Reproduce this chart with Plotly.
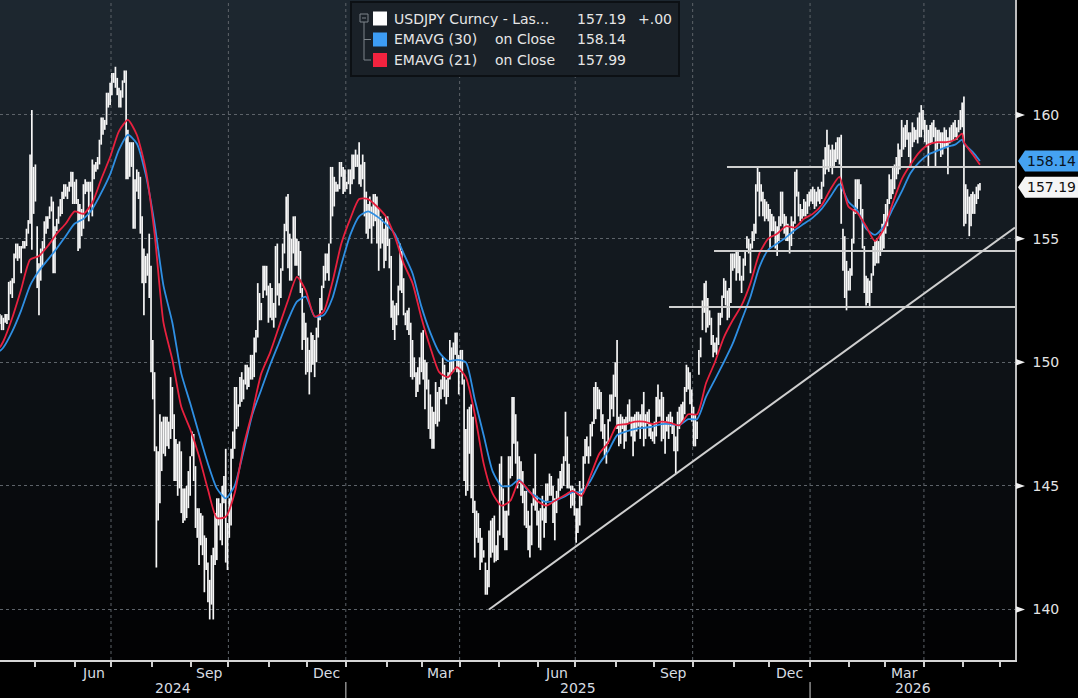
import numpy as np
import pandas as pd
import plotly.graph_objects as go

# ------------------------------------------------------------------
# Daily USDJPY bars (high, low), one list per month
# ------------------------------------------------------------------
M2024_04 = [(151.95,151.55),(151.9,151.3),(151.8,151.3),
            (151.95,151.6),(151.95,151.55),(153.25,151.7),(153.3,152.75),(153.4,152.6),
            (154.4,153.2),(154.8,154.2),(154.8,154.1),(154.7,154.2),(154.7,153.6),
            (154.9,154.6),(154.9,154.6),(155.4,154.7),(155.75,155.2),(158.4,155.6),
            (160.2,154.55),(157.9,156.0)]
M2024_05 = [(158.0,156.5),(155.5,153.0),(154.0,151.9),
            (154.6,153.3),(154.9,153.9),(155.7,154.6),(155.9,155.2),(155.9,155.4),
            (156.3,155.8),(156.7,156.1),(156.5,153.6),(155.5,153.6),(155.8,155.3),
            (156.3,155.6),(156.6,155.9),(156.9,156.0),(157.2,156.6),(157.2,156.7),
            (157.1,156.6),(157.3,156.9),(157.7,157.1),(157.7,156.4),(157.3,156.4)]
M2024_06 = [(157.4,156.4),(156.6,154.5),(156.4,154.6),(156.2,155.1),(157.2,155.4),
            (157.4,156.8),(157.3,156.9),(157.3,155.7),(157.3,156.9),(158.2,155.9),
            (158.0,157.4),(158.1,157.7),(158.3,157.8),(159.0,158.0),(159.9,158.8),
            (159.9,159.2),(159.8,159.4),(160.9,159.6),(160.9,160.3),(161.3,160.4)]
M2024_07 = [(161.7,160.8),(161.7,161.3),(161.95,161.1),(161.5,160.8),(161.1,160.3),
            (161.0,160.3),(161.4,160.7),(161.8,161.3),(161.8,157.4),(159.4,157.4),
            (158.9,157.5),(158.9,157.9),(158.9,155.4),(157.4,155.4),(157.8,156.9),
            (157.7,156.6),(157.5,155.2),(155.9,153.2),(154.6,151.9),(154.3,153.2),
            (154.4,153.5),(155.2,152.6),(153.9,149.6)]
M2024_08 = [(150.9,148.5),(149.6,146.4),
            (146.6,141.7),(146.4,143.6),(147.9,144.3),(147.6,145.6),(147.8,146.3),
            (147.8,146.2),(147.8,146.6),(147.6,146.5),(149.4,146.9),(149.0,147.3),
            (147.9,145.2),(146.9,145.2),(146.7,144.6),(146.8,144.9),(146.4,143.9),
            (144.9,143.5),(144.9,143.6),(145.0,143.7),(145.6,144.1),(146.2,144.6)]
M2024_09 = [(147.2,146.2),(147.1,145.2),(145.8,143.3),(144.1,142.9),(144.1,141.8),
            (143.9,142.6),(143.8,142.2),(143.0,140.7),(142.9,141.6),(141.9,140.3),
            (141.2,139.6),(142.2,140.2),(142.5,139.6),(143.9,141.8),(144.5,142.0),
            (144.5,143.4),(144.3,142.8),(145.0,142.6),(145.4,144.3),(146.5,141.9),
            (143.5,141.6)]
M2024_10 = [(144.5,142.9),(146.5,143.4),(147.2,146.1),(149.0,146.5),
            (149.0,147.3),(148.3,147.4),(149.4,148.2),(149.6,148.4),(149.3,148.5),
            (149.9,149.1),(149.9,148.9),(149.8,149.0),(150.3,149.3),(150.3,149.3),
            (151.0,149.4),(151.3,150.4),(153.2,151.0),(152.8,151.7),(152.4,151.7),
            (153.9,152.6),(153.9,152.9),(153.9,152.7),(153.1,151.6)]
M2024_11 = [(153.2,151.8),
            (153.0,151.7),(152.4,151.4),(154.7,151.8),(154.8,152.7),(153.2,152.3),
            (153.8,152.6),(154.8,153.7),(155.6,154.4),(156.7,155.3),(156.8,153.8),
            (155.2,153.3),(155.0,153.3),(155.9,154.4),(155.9,153.9),(155.0,153.9),
            (154.9,153.5),(154.5,152.8),(153.0,150.5),(152.0,150.9),(151.6,149.5)]
M2024_12 = [(151.0,149.6),(150.5,148.7),(151.2,149.6),(151.1,149.9),(150.9,149.4),
            (151.4,150.0),(151.9,151.0),(152.6,151.7),(153.1,152.1),(153.9,153.0),
            (154.4,153.3),(154.4,153.6),(154.8,153.3),(157.9,154.8),(157.9,155.9),
            (157.5,156.3),(157.3,156.9),(157.2,156.9),(158.1,157.0),(158.1,157.5),
            (157.9,156.8),(157.8,156.9)]
M2025_01 = [(157.3,157.0),(157.8,157.2),(157.8,156.8),
            (158.4,157.2),(158.4,157.4),(158.6,157.9),(158.4,157.9),(158.9,157.2),
            (158.0,157.1),(158.4,157.4),(158.1,155.9),(156.9,155.2),(156.4,155.0),
            (156.7,155.4),(156.3,154.8),(156.8,155.5),(156.8,155.7),(156.7,154.8),
            (156.2,153.7),(155.9,154.6),(155.8,154.8),(155.4,153.8),(155.9,154.1)]
M2025_02 = [(155.9,154.7),(155.0,153.8),(154.3,151.8),(152.5,151.3),(152.3,150.9),
            (152.4,151.5),(153.1,151.9),(154.8,152.9),(154.5,152.8),(153.4,151.9),
            (152.0,151.5),(152.1,151.3),(152.2,151.1),(151.6,149.4),(150.9,149.3),
            (150.2,149.4),(149.6,148.6),(149.8,148.8),(150.2,149.1),(151.2,149.6)]
M2025_03 = [(151.3,149.3),(150.1,148.1),(150.0,148.9),(149.3,147.3),(148.7,146.9),
            (148.2,146.5),(148.0,146.5),(149.2,147.5),(148.8,147.4),(149.0,147.6),
            (149.3,148.5),(150.2,148.9),(149.9,148.6),(149.3,148.3),(149.6,148.6),
            (150.9,149.3),(150.6,149.6),(150.8,149.6),(151.2,150.3),(151.2,149.6),
            (150.3,148.7)]
M2025_04 = [(150.5,149.6),(150.5,149.1),(149.3,145.2),(147.3,144.6),
            (148.1,144.8),(148.2,146.3),(148.3,144.5),(147.8,143.9),(144.4,142.1),
            (144.0,142.9),(143.9,142.7),(143.3,141.6),(142.9,141.9),(142.4,142.1),
            (141.9,140.6),(141.6,140.6),(143.2,140.9),(143.6,142.1),(143.7,142.3),
            (143.8,141.9),(142.6,141.95),(143.2,142.0)]
M2025_05 = [(145.9,143.0),(146.2,144.4),
            (144.9,142.9),(144.0,142.4),(144.0,142.4),(146.2,143.8),(146.2,145.3),
            (148.6,145.4),(148.6,146.7),(147.9,145.9),(146.8,144.9),(146.2,145.1),
            (146.0,144.6),(145.6,144.3),(144.8,143.4),(144.8,143.3),(144.0,142.4),
            (143.4,142.1),(144.3,142.6),(144.9,144.2),(146.3,144.0),(144.6,143.4)]
M2025_06 = [(144.0,142.5),(144.1,142.4),(144.6,143.6),(144.1,142.9),(145.1,143.5),
            (145.1,144.4),(145.5,144.6),(145.4,144.6),(145.0,143.5),(144.5,142.8),
            (144.8,143.9),(145.3,144.5),(145.6,144.8),(145.9,144.9),(146.2,145.0),
            (148.0,146.0),(147.0,144.9),(145.9,144.9),(145.0,144.1),(145.0,144.2),
            (144.9,143.8)]
M2025_07 = [(144.1,142.7),(144.1,143.1),(145.2,143.4),(144.9,144.2),
            (146.2,144.7),(146.9,145.9),(147.0,146.2),(146.6,145.9),(147.5,146.2),
            (147.6,147.0),(149.0,147.5),(149.2,147.7),(149.0,148.1),(148.9,148.1),
            (148.8,147.2),(147.9,146.9),(147.5,146.2),(146.8,145.9),(147.7,146.7),
            (148.7,147.6),(148.7,148.1),(149.5,147.8),(150.0,148.6)]
M2025_08 = [(150.9,147.3),
            (147.8,146.6),(147.9,146.7),(147.8,147.3),(147.7,146.5),(147.8,146.8),
            (148.3,147.5),(148.5,147.6),(147.8,147.0),(147.8,146.2),(147.9,146.8),
            (148.0,147.2),(148.0,147.4),(147.9,146.9),(148.3,147.4),(148.8,146.6),
            (147.9,146.9),(148.0,147.5),(148.1,147.0),(147.5,146.9),(147.2,146.8)]
M2025_09 = [(147.6,146.7),(148.6,147.0),(149.1,147.8),(148.5,147.8),(148.8,146.8),
            (148.6,146.9),(147.6,146.3),(147.8,147.2),(147.9,146.9),(148.0,147.4),
            (147.8,147.1),(147.5,146.4),(147.0,145.5),(148.0,146.4),(148.2,147.3),
            (148.3,147.5),(148.4,147.6),(149.0,147.9),(149.9,148.8),(149.8,148.9),
            (149.6,148.3),(148.9,147.6)]
M2025_10 = [(148.2,146.6),(147.9,146.6),(147.6,146.9),
            (150.5,149.5),(151.0,150.2),(152.5,151.3),(153.2,152.0),(153.3,151.2),
            (152.6,151.4),(152.1,151.5),(151.8,150.7),(151.1,150.2),(150.8,150.4),
            (151.0,150.3),(152.0,150.7),(152.0,151.5),(152.7,151.8),(153.4,152.6),
            (153.3,152.3),(152.9,151.7),(153.0,151.8),(154.4,152.4),(154.4,153.7)]
M2025_11 = [(154.4,153.8),(154.5,153.3),(154.5,153.6),(154.3,153.3),(153.5,152.8),
            (154.2,153.3),(154.5,153.9),(155.1,154.6),(155.0,154.4),(154.8,153.6),
            (155.3,154.6),(155.6,154.9),(157.2,155.2),(157.9,156.9),(157.7,155.9),
            (157.2,156.5),(156.9,155.9),(156.6,155.7),(156.5,155.8),(156.4,155.7)]
M2025_12 = [(156.2,154.6),(156.0,155.3),(155.9,155.3),(155.7,154.6),(155.5,154.3),
            (155.9,154.9),(156.9,155.5),(156.9,155.6),(156.0,155.2),(155.9,154.9),
            (155.6,154.9),(155.2,154.4),(155.9,154.7),(155.7,155.2),(157.7,155.6),
            (157.8,156.7),(156.9,155.9),(156.4,155.7),(156.2,155.8),(156.6,155.9),
            (156.5,155.9),(156.8,156.0),(156.9,156.3)]
M2026_01 = [(157.0,156.5),(157.1,156.4),
            (157.0,156.2),(156.9,156.3),(157.1,156.5),(157.0,156.4),(157.3,156.6),
            (158.2,157.1),(158.7,157.6),(159.4,157.8),(158.8,157.7),(158.6,157.9),
            (158.8,157.6),(158.6,157.9),(158.9,158.1),(159.1,158.2),(159.1,158.0),
            (159.2,155.6),(155.4,153.7),(155.1,152.6),(154.1,152.1),(153.7,152.9)]
M2026_02 = [(153.8,152.9),(155.0,153.5),(156.2,154.8),(157.4,156.0),(157.4,156.2),
            (157.4,156.6),(157.2,155.8),(156.2,154.6),(154.7,152.8),(153.5,152.3),
            (153.4,152.4),(153.3,152.25),(153.6,152.8),(154.7,153.5),(154.9,153.9),
            (155.0,154.0),(154.9,154.0),(155.2,154.3),(155.6,154.5),(156.0,154.6)]
M2026_03 = [(156.4,155.2),(156.6,155.5),(157.6,156.4),(157.4,156.6),(157.9,156.8),
            (158.0,157.0),(158.3,157.4),(158.85,157.6),(158.6,157.8),(159.8,158.3),
            (159.5,158.6),(159.6,158.7),(159.8,159.0),(159.3,158.3),(159.3,157.9),
            (159.7,158.7),(159.5,158.9),(159.4,159.0),(159.9,158.85),(160.1,159.1),
            (160.4,159.1),(160.2,159.4)]
M2026_04 = [(159.8,158.9),(159.6,158.7),(159.4,157.9),
            (159.6,158.8),(159.7,158.85),(159.8,159.1),(159.5,157.9),(159.4,158.6),
            (159.4,158.85),(159.3,158.3),(159.3,158.4),(159.5,158.7),(159.4,158.65),
            (159.1,157.6),(159.5,158.85),(159.6,158.9),(159.7,159.0),(159.8,159.1),
            (159.5,159.0),(159.8,159.3),(160.2,159.4),(160.5,159.5)]
M2026_05 = [(160.75,155.5),
            (157.2,155.6),(157.0,156.0),(156.7,155.1),(156.8,155.5),(156.9,156.0),
            (156.8,156.0),(157.1,156.4),(157.2,156.6),(157.25,156.95)]

MONTHS = [("2024-04", M2024_04), ("2024-05", M2024_05), ("2024-06", M2024_06),
          ("2024-07", M2024_07), ("2024-08", M2024_08), ("2024-09", M2024_09),
          ("2024-10", M2024_10), ("2024-11", M2024_11), ("2024-12", M2024_12),
          ("2025-01", M2025_01), ("2025-02", M2025_02), ("2025-03", M2025_03),
          ("2025-04", M2025_04), ("2025-05", M2025_05), ("2025-06", M2025_06),
          ("2025-07", M2025_07), ("2025-08", M2025_08), ("2025-09", M2025_09),
          ("2025-10", M2025_10), ("2025-11", M2025_11), ("2025-12", M2025_12),
          ("2026-01", M2026_01), ("2026-02", M2026_02), ("2026-03", M2026_03),
          ("2026-04", M2026_04), ("2026-05", M2026_05)]
DATA_START = pd.Timestamp("2024-04-03")
DATA_END = pd.Timestamp("2026-05-14")

# ------------------------------------------------------------------
# EMA lines read weekly (Fridays) from the chart
# ------------------------------------------------------------------
EMA21_2024 = [150.6, 150.85, 151.8, 152.95, 154.15, 154.3, 154.7, 155.2, 155.6, 156.1,
              156.0, 156.45, 157.4, 158.3, 159.35, 159.8, 159.2, 157.8, 155.2, 151.6,
              150.1, 148.2, 147.3, 146.2, 144.85, 143.7, 143.75, 144.7, 146.6, 148.0,
              149.55, 150.4, 151.45, 152.5, 153.45, 152.9, 151.85, 152.05, 153.25, 154.8]
EMA21_2025 = [155.8, 156.6, 156.6, 156.3, 155.9, 155.1, 154.0, 153.2, 151.8, 150.6,
              149.6, 149.4, 149.8, 149.4, 147.9, 145.9, 144.7, 144.2, 144.4, 145.2,
              144.85, 144.4, 144.2, 144.4, 144.6, 144.8, 144.6, 145.4, 146.3, 146.75,
              147.45, 147.5, 147.6, 147.6, 147.5, 147.6, 147.55, 147.45, 147.9, 147.9,
              149.15, 150.0, 151.0, 151.7, 152.3, 153.2, 154.4, 155.0, 155.2, 155.5,
              155.45, 155.8]
EMA21_2026 = [156.0, 156.35, 157.0, 157.5, 156.3, 156.05, 155.5, 154.9, 155.4, 156.45,
              157.4, 158.0, 158.5, 158.8, 158.9, 158.9, 159.0, 159.25, 158.9, 158.4, 157.99]
EMA30_2024 = [150.45, 150.6, 151.25, 152.1, 153.1, 153.7, 154.15, 154.6, 155.1, 155.6,
              155.8, 156.2, 156.85, 157.6, 158.6, 159.2, 158.85, 157.6, 155.6, 153.1,
              151.6, 149.55, 148.35, 147.1, 145.9, 144.9, 144.5, 145.0, 146.4, 147.9,
              148.9, 149.9, 150.8, 151.7, 152.45, 152.65, 151.85, 151.9, 152.6, 153.95]
EMA30_2025 = [155.15, 155.9, 156.1, 155.9, 155.6, 155.2, 154.4, 153.6, 152.25, 151.2,
              150.4, 150.05, 150.1, 150.0, 148.5, 147.05, 145.6, 145.0, 145.0, 145.25,
              144.8, 144.55, 144.35, 144.4, 144.55, 144.75, 144.75, 145.2, 145.9, 146.4,
              147.05, 147.2, 147.3, 147.35, 147.4, 147.5, 147.5, 147.45, 147.7, 147.7,
              148.6, 149.3, 150.0, 150.75, 151.7, 152.65, 153.85, 154.55, 154.8, 155.05,
              155.35, 155.6]
EMA30_2026 = [155.85, 156.2, 156.7, 157.2, 156.5, 156.15, 155.4, 155.15, 155.5, 156.2,
              156.9, 157.65, 158.1, 158.4, 158.55, 158.7, 158.8, 159.0, 158.85, 158.5, 158.14]
EMA_EXTRA_DATES = ["2026-04-30", "2026-05-01", "2026-05-08", "2026-05-14"]

# Analyst lines (levels)
TREND_START = ("2025-04-23 12:00", 140.0)
TREND_END = ("2026-06-11 05:00", 155.45)
LEVELS = [("2025-10-28 07:00", 157.9), ("2025-10-17 00:00", 154.5), ("2025-09-11 17:00", 152.24)]

LAST_PRICE = 157.19
LAST_EMA30 = 158.14
LAST_EMA21 = 157.99
Y_TICKS = [140, 145, 150, 155, 160]
MONTH_LABELS = [("2024-06", "Jun"), ("2024-09", "Sep"), ("2024-12", "Dec"),
                ("2025-03", "Mar"), ("2025-06", "Jun"), ("2025-09", "Sep"),
                ("2025-12", "Dec"), ("2026-03", "Mar")]
YEARS = ["2024", "2025", "2026"]

X_RANGE = ["2024-04-03 14:24", "2026-06-11 05:00"]
Y_RANGE = [137.96, 164.65]

# ------------------------------------------------------------------
dates, highs, lows = [], [], []
for ym, rows in MONTHS:
    ms = pd.Timestamp(ym + "-01")
    me = ms + pd.offsets.MonthEnd(0)
    d = pd.bdate_range(max(ms, DATA_START), min(me, DATA_END))
    if len(d) != len(rows):
        raise ValueError(f"{ym}: {len(d)} days vs {len(rows)} rows")
    dates.extend(d)
    highs.extend(r[0] for r in rows)
    lows.extend(r[1] for r in rows)

half = pd.Timedelta(hours=12)
bx, by = [], []
for d, h, l in zip(dates, highs, lows):
    t = d + half
    bx += [t, t, None]
    by += [l, h, None]

ema_dates = ([pd.Timestamp("2024-04-03")]
             + list(pd.date_range("2024-04-05", "2026-04-24", freq="W-FRI"))
             + [pd.Timestamp(s) for s in EMA_EXTRA_DATES])
ema_dates = [d + half for d in ema_dates]
ema21 = EMA21_2024 + EMA21_2025 + EMA21_2026
ema30 = EMA30_2024 + EMA30_2025 + EMA30_2026
assert len(ema_dates) == len(ema21) == len(ema30), (len(ema_dates), len(ema21), len(ema30))

# ------------------------------------------------------------------
W, H = 1078, 698
PL, PR, PT, PB = 0, 63, 0, 38
PW, PH = W - PL - PR, H - PT - PB
FONT = "DejaVu Sans"


def px(x):
    return (x - PL) / PW


def py(y):
    return (PH - (y - PT)) / PH


REF = np.datetime64("2024-01-01")


def wpos(ts):
    ts = pd.Timestamp(ts)
    d = ts.normalize()
    n = int(np.busday_count(REF, np.datetime64(d.date())))
    frac = (ts - d) / pd.Timedelta(days=1) if d.weekday() < 5 else 0.0
    return n + frac


def wts(p):
    n = int(np.floor(p))
    frac = p - n
    d = np.busday_offset(REF, n, roll="forward")
    return pd.Timestamp(d) + pd.Timedelta(days=frac)


def roll_wd(ts):
    ts = pd.Timestamp(ts)
    while ts.weekday() >= 5:
        ts += pd.Timedelta(days=1)
    return ts


fig = go.Figure()
fig.add_trace(go.Scatter(x=bx, y=by, mode="lines", line=dict(color="#f7f7f7", width=1.7),
                         hoverinfo="skip", connectgaps=False))
fig.add_trace(go.Scatter(x=ema_dates, y=ema30, mode="lines",
                         line=dict(color="#2f8fe3", width=1.8, shape="spline", smoothing=0.6),
                         hoverinfo="skip"))
fig.add_trace(go.Scatter(x=ema_dates, y=ema21, mode="lines",
                         line=dict(color="#e8213f", width=1.8, shape="spline", smoothing=0.6),
                         hoverinfo="skip"))

shapes = []
# background gradient
N = 66
for i in range(N):
    t = (i + 0.5) / N
    r, g, b = int(2 + 28 * t), int(2 + 38 * t), int(3 + 46 * t)
    shapes.append(dict(type="rect", xref="paper", yref="paper", x0=0, x1=1,
                       y0=i / N, y1=min(1, (i + 1) / N + 0.003), layer="below",
                       fillcolor=f"rgb({r},{g},{b})", line=dict(width=0)))
# vertical quarter gridlines
for q in ["2024-07-01", "2024-10-01", "2025-01-01", "2025-04-01", "2025-07-01",
          "2025-10-01", "2026-01-01", "2026-04-01"]:
    shapes.append(dict(type="line", xref="x", yref="paper", x0=q, x1=q, y0=0, y1=1,
                       layer="below", line=dict(color="#5d6369", width=1, dash="dot")))
# analyst lines
LINE_COL = "#cfcfcf"
shapes.append(dict(type="line", xref="x", yref="y", x0=TREND_START[0], y0=TREND_START[1],
                   x1=TREND_END[0], y1=TREND_END[1], line=dict(color=LINE_COL, width=2)))
for x0, lv in LEVELS:
    shapes.append(dict(type="line", xref="x", yref="y", x0=x0, x1=X_RANGE[1], y0=lv, y1=lv,
                       line=dict(color=LINE_COL, width=2)))
# y tick triangles
UPP = (Y_RANGE[1] - Y_RANGE[0]) / PH  # value units per pixel
for v in Y_TICKS:
    shapes.append(dict(type="path", xref="paper", yref="y",
                       path=f"M {px(1016)},{v + 3.2 * UPP} L {px(1025)},{v} L {px(1016)},{v - 3.2 * UPP} Z",
                       fillcolor="#f0f0f0", line=dict(width=0)))


def tag(center, color):
    hh = 10.5 * UPP
    return dict(type="path", xref="paper", yref="y",
                path=(f"M {px(1018)},{center} L {px(1025)},{center + hh} L {px(1078)},{center + hh} "
                      f"L {px(1078)},{center - hh} L {px(1025)},{center - hh} Z"),
                fillcolor=color, line=dict(width=0))


TAG_BLUE_Y = LAST_EMA30
TAG_WHITE_Y = 157.08
shapes.append(tag(TAG_BLUE_Y, "#45a2f2"))
shapes.append(tag(TAG_WHITE_Y, "#f5f5f5"))
# year separators below axis
for ysep in ["2025-01-01", "2026-01-01"]:
    shapes.append(dict(type="line", xref="x", yref="paper", x0=ysep, x1=ysep,
                       y0=py(682), y1=py(698), line=dict(color="#8c8c8c", width=1.5)))
# legend box
shapes.append(dict(type="rect", xref="paper", yref="paper", x0=px(351), x1=px(679),
                   y0=py(76), y1=py(2), fillcolor="#1a2128", line=dict(color="#0c1014", width=2)))
TREE = "#7d848a"
shapes.append(dict(type="rect", xref="paper", yref="paper", x0=px(360), x1=px(368),
                   y0=py(22), y1=py(14), line=dict(color=TREE, width=1)))
shapes.append(dict(type="line", xref="paper", yref="paper", x0=px(362), x1=px(366),
                   y0=py(18), y1=py(18), line=dict(color=TREE, width=1)))
shapes.append(dict(type="line", xref="paper", yref="paper", x0=px(364), x1=px(364),
                   y0=py(22), y1=py(60), line=dict(color=TREE, width=1)))
for yy in [39.5, 60]:
    shapes.append(dict(type="line", xref="paper", yref="paper", x0=px(364), x1=px(371),
                       y0=py(yy), y1=py(yy), line=dict(color=TREE, width=1)))
for yy, col in [(18.5, "#ffffff"), (39.5, "#3d9df5"), (60, "#f2233f")]:
    shapes.append(dict(type="rect", xref="paper", yref="paper", x0=px(373), x1=px(387),
                       y0=py(yy + 7), y1=py(yy - 7), fillcolor=col, line=dict(width=0)))

annotations = []
TXT = "#e6e6e6"


def txt(x, y, s, color=TXT, size=14, xanchor="left", xref="paper", yref="paper"):
    annotations.append(dict(x=x, y=y, xref=xref, yref=yref, text=s, showarrow=False,
                            xanchor=xanchor, yanchor="middle",
                            font=dict(family=FONT, size=size, color=color)))


txt(px(392), py(18.5), "USDJPY Curncy - Las...")
txt(px(575), py(18.5), f"{LAST_PRICE:.2f}")
txt(px(636), py(18.5), "+.00")
txt(px(392), py(39.5), "EMAVG (30)")
txt(px(493), py(39.5), "on Close")
txt(px(575), py(39.5), f"{LAST_EMA30:.2f}")
txt(px(392), py(60), "EMAVG (21)")
txt(px(493), py(60), "on Close")
txt(px(575), py(60), f"{LAST_EMA21:.2f}")
# price tags
txt(px(1051), TAG_BLUE_Y, f"{LAST_EMA30:.2f}", color="#0a1320", xanchor="center", yref="y")
txt(px(1051), TAG_WHITE_Y, f"{LAST_PRICE:.2f}", color="#111111", xanchor="center", yref="y")
# month labels
for ym, lab in MONTH_LABELS:
    ms = pd.Timestamp(ym + "-01")
    me = ms + pd.offsets.MonthBegin(1)
    mid = wts((wpos(ms) + wpos(me)) / 2)
    txt(mid, py(673), lab, color="#d8dde2", xanchor="center", xref="x")
# year labels
bounds = [pd.Timestamp(X_RANGE[0]), pd.Timestamp("2025-01-01"), pd.Timestamp("2026-01-01"),
          pd.Timestamp(X_RANGE[1])]
for i, yl in enumerate(YEARS):
    mid = wts((wpos(bounds[i]) + wpos(bounds[i + 1])) / 2)
    txt(mid, py(688), yl, color="#d8dde2", xanchor="center", xref="x")

month_ticks = [roll_wd(t) for t in pd.date_range("2024-05-01", "2026-06-01", freq="MS")]

fig.update_layout(
    width=W, height=H,
    margin=dict(l=PL, r=PR, t=PT, b=PB, autoexpand=False),
    paper_bgcolor="#000000", plot_bgcolor="rgba(0,0,0,0)",
    showlegend=False, hovermode=False,
    font=dict(family=FONT, size=14, color="#e0e0e0"),
    shapes=shapes, annotations=annotations,
    xaxis=dict(type="date", range=X_RANGE, rangebreaks=[dict(bounds=["sat", "mon"])],
               showgrid=False, zeroline=False, tickmode="array", tickvals=month_ticks,
               ticks="outside", ticklen=5, tickwidth=1.5, tickcolor="#d0d0d0",
               showticklabels=False, showline=True, linecolor="#d6d6d6", linewidth=2,
               automargin=False, fixedrange=True),
    yaxis=dict(side="right", range=Y_RANGE, tickmode="array", tickvals=Y_TICKS,
               ticktext=[str(v) for v in Y_TICKS], showgrid=True, gridcolor="#5d6369",
               griddash="dot", gridwidth=1, zeroline=False, showline=True,
               linecolor="#bdbdbd", linewidth=1.5, ticks="", ticklabelstandoff=13,
               tickfont=dict(family=FONT, size=14, color="#e4e4e4"),
               automargin=False, fixedrange=True),
)

fig.write_html("out.html")
